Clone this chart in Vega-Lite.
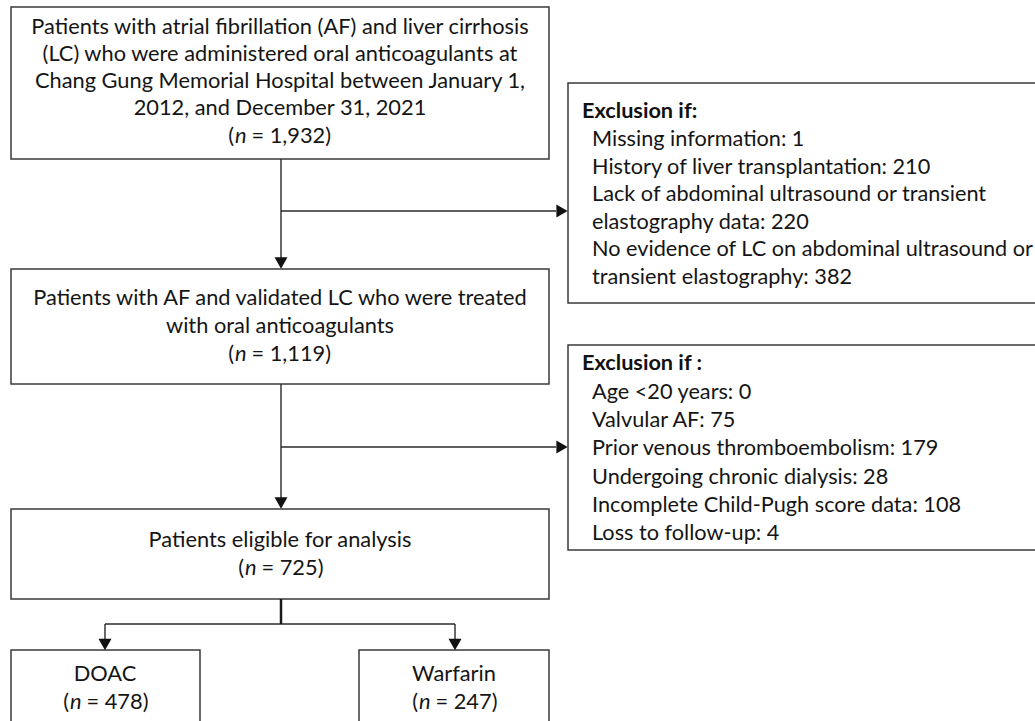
{
  "$schema": "https://vega.github.io/schema/vega-lite/v6.json",
  "width": 1035,
  "height": 721,
  "padding": 0,
  "autosize": "none",
  "background": "white",
  "config": {"view": {"stroke": null}},
  "datasets": {
    "boxes": [
      {"id": "start", "x": 11, "x2": 549, "y": 7, "y2": 159},
      {"id": "excl1", "x": 568, "x2": 1045, "y": 83, "y2": 303},
      {"id": "validated", "x": 11, "x2": 549, "y": 269, "y2": 384},
      {"id": "excl2", "x": 568, "x2": 1045, "y": 345, "y2": 550},
      {"id": "eligible", "x": 11, "x2": 549, "y": 509, "y2": 599},
      {"id": "doac", "x": 11, "x2": 200, "y": 650, "y2": 740},
      {"id": "warfarin", "x": 359, "x2": 549, "y": 650, "y2": 740}
    ],
    "links": [
      {"x": 281, "x2": 281, "y": 159, "y2": 263},
      {"x": 281, "x2": 556, "y": 211, "y2": 211},
      {"x": 281, "x2": 281, "y": 384, "y2": 503},
      {"x": 281, "x2": 556, "y": 447, "y2": 447},
      {"x": 105, "x2": 455, "y": 624, "y2": 624},
      {"x": 105, "x2": 105, "y": 624, "y2": 644},
      {"x": 455, "x2": 455, "y": 624, "y2": 644}
    ],
    "trunk": [
      {"x": 281, "x2": 281, "y": 599, "y2": 624}
    ],
    "arrows": [
      {"x": 281, "y": 263, "dir": "down"},
      {"x": 562, "y": 211, "dir": "right"},
      {"x": 281, "y": 503, "dir": "down"},
      {"x": 562, "y": 447, "dir": "right"},
      {"x": 105, "y": 644.5, "dir": "down"},
      {"x": 455, "y": 644.5, "dir": "down"}
    ],
    "lines": [
      {"role": "body", "x": 280, "y": 27, "text": "Patients with atrial fibrillation (AF) and liver cirrhosis"},
      {"role": "body", "x": 280, "y": 54, "text": "(LC) who were administered oral anticoagulants at"},
      {"role": "body", "x": 280, "y": 81, "text": "Chang Gung Memorial Hospital between January 1,"},
      {"role": "body", "x": 280, "y": 108, "text": "2012, and December 31, 2021"},
      {"role": "body", "x": 280, "y": 298, "text": "Patients with AF and validated LC who were treated"},
      {"role": "body", "x": 280, "y": 326, "text": "with oral anticoagulants"},
      {"role": "body", "x": 280, "y": 540, "text": "Patients eligible for analysis"},
      {"role": "body", "x": 105, "y": 674, "text": "DOAC"},
      {"role": "body", "x": 454, "y": 674, "text": "Warfarin"},
      {"role": "header", "x": 582, "y": 111, "text": "Exclusion if:"},
      {"role": "item", "x": 592, "y": 139, "text": "Missing information: 1"},
      {"role": "item", "x": 592, "y": 167, "text": "History of liver transplantation: 210"},
      {"role": "item", "x": 592, "y": 194, "text": "Lack of abdominal ultrasound or transient"},
      {"role": "item", "x": 592, "y": 222, "text": "elastography data: 220"},
      {"role": "item", "x": 592, "y": 249, "text": "No evidence of LC on abdominal ultrasound or"},
      {"role": "item", "x": 592, "y": 277, "text": "transient elastography: 382"},
      {"role": "header", "x": 582, "y": 363, "text": "Exclusion if :"},
      {"role": "item", "x": 592, "y": 392, "text": "Age <20 years: 0"},
      {"role": "item", "x": 592, "y": 420, "text": "Valvular AF: 75"},
      {"role": "item", "x": 592, "y": 448, "text": "Prior venous thromboembolism: 179"},
      {"role": "item", "x": 592, "y": 477, "text": "Undergoing chronic dialysis: 28"},
      {"role": "item", "x": 592, "y": 505, "text": "Incomplete Child-Pugh score data: 108"},
      {"role": "item", "x": 592, "y": 533, "text": "Loss to follow-up: 4"}
    ],
    "counts": [
      {"x": 235, "y": 136, "rest": "= 1,932)"},
      {"x": 235, "y": 354, "rest": "= 1,119)"},
      {"x": 245, "y": 568, "rest": "= 725)"},
      {"x": 70, "y": 702, "rest": "= 478)"},
      {"x": 419, "y": 702, "rest": "= 247)"}
    ]
  },
  "encoding": {
    "x": {"field": "x", "type": "quantitative", "scale": {"domain": [0, 1035], "nice": false, "zero": false}, "axis": null},
    "y": {"field": "y", "type": "quantitative", "scale": {"domain": [0, 721], "reverse": true, "nice": false, "zero": false}, "axis": null}
  },
  "layer": [
    {
      "data": {"name": "boxes"},
      "mark": {"type": "rect", "fill": "white", "stroke": "#3a3a3a", "strokeWidth": 1.5, "clip": true},
      "encoding": {"x2": {"field": "x2"}, "y2": {"field": "y2"}}
    },
    {
      "data": {"name": "links"},
      "mark": {"type": "rule", "stroke": "#2a2a2a", "strokeWidth": 1.4},
      "encoding": {"x2": {"field": "x2"}, "y2": {"field": "y2"}}
    },
    {
      "data": {"name": "trunk"},
      "mark": {"type": "rule", "stroke": "#1a1a1a", "strokeWidth": 2.5},
      "encoding": {"x2": {"field": "x2"}, "y2": {"field": "y2"}}
    },
    {
      "data": {"name": "arrows"},
      "mark": {"type": "point", "filled": true, "size": 170, "opacity": 1, "color": "#111111"},
      "encoding": {
        "shape": {"field": "dir", "type": "nominal", "scale": {"domain": ["down", "right"], "range": ["triangle-down", "triangle-right"]}, "legend": null}
      }
    },
    {
      "data": {"name": "lines"},
      "transform": [{"filter": "datum.role === 'body'"}],
      "mark": {"type": "text", "font": "Lato", "fontSize": 21.8, "color": "#151515", "align": "center", "baseline": "middle"},
      "encoding": {"text": {"field": "text"}}
    },
    {
      "data": {"name": "lines"},
      "transform": [{"filter": "datum.role === 'item'"}],
      "mark": {"type": "text", "font": "Lato", "fontSize": 21.7, "color": "#151515", "align": "left", "baseline": "middle"},
      "encoding": {"text": {"field": "text"}}
    },
    {
      "data": {"name": "lines"},
      "transform": [{"filter": "datum.role === 'header'"}],
      "mark": {"type": "text", "font": "Lato", "fontSize": 21.7, "fontWeight": "bold", "color": "#111111", "align": "left", "baseline": "middle"},
      "encoding": {"text": {"field": "text"}}
    },
    {
      "data": {"name": "counts"},
      "mark": {"type": "text", "font": "Lato", "fontSize": 21.8, "color": "#151515", "align": "right", "baseline": "middle", "text": "(", "dx": -1},
      "encoding": {}
    },
    {
      "data": {"name": "counts"},
      "mark": {"type": "text", "font": "Lato", "fontSize": 21.8, "fontStyle": "italic", "color": "#151515", "align": "left", "baseline": "middle", "text": "n"},
      "encoding": {}
    },
    {
      "data": {"name": "counts"},
      "mark": {"type": "text", "font": "Lato", "fontSize": 21.8, "color": "#151515", "align": "left", "baseline": "middle", "dx": 16.5},
      "encoding": {"text": {"field": "rest"}}
    }
  ]
}
